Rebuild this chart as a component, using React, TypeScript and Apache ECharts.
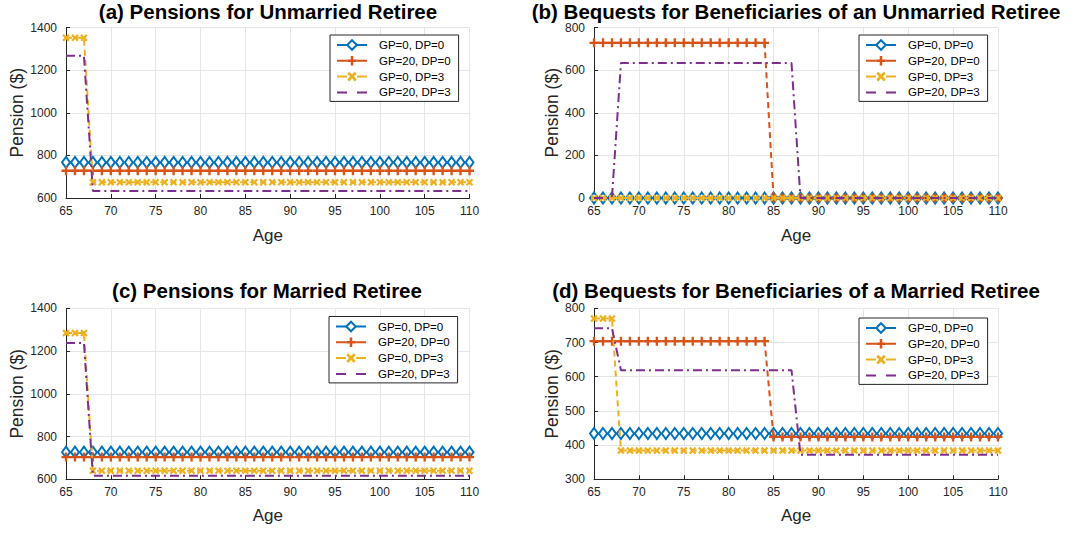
import React, { useEffect, useRef } from 'react';
import * as echarts from 'echarts';

// ---------------- data ----------------
const ages = [
  65, 66, 67, 68, 69, 70, 71, 72, 73, 74,
  75, 76, 77, 78, 79, 80, 81, 82, 83, 84,
  85, 86, 87, 88, 89, 90, 91, 92, 93, 94,
  95, 96, 97, 98, 99, 100, 101, 102, 103, 104,
  105, 106, 107, 108, 109, 110,
];

const seriesNames = ['GP=0, DP=0', 'GP=20, DP=0', 'GP=0, DP=3', 'GP=20, DP=3'];

const panelTitles = [
  '(a) Pensions for Unmarried Retiree',
  '(b) Bequests for Beneficiaries of an Unmarried Retiree',
  '(c) Pensions for Married Retiree',
  '(d) Bequests for Beneficiaries of a Married Retiree',
];

const xAxisName = 'Age';
const yAxisName = 'Pension ($)';

// (a) pensions, unmarried
const aGP0DP0 = [
  767, 767, 767, 767, 767, 767, 767, 767, 767, 767,
  767, 767, 767, 767, 767, 767, 767, 767, 767, 767,
  767, 767, 767, 767, 767, 767, 767, 767, 767, 767,
  767, 767, 767, 767, 767, 767, 767, 767, 767, 767,
  767, 767, 767, 767, 767, 767,
];
const aGP20DP0 = [
  728, 728, 728, 728, 728, 728, 728, 728, 728, 728,
  728, 728, 728, 728, 728, 728, 728, 728, 728, 728,
  728, 728, 728, 728, 728, 728, 728, 728, 728, 728,
  728, 728, 728, 728, 728, 728, 728, 728, 728, 728,
  728, 728, 728, 728, 728, 728,
];
const aGP0DP3 = [
  1352, 1352, 1352, 674, 674, 674, 674, 674, 674, 674,
  674, 674, 674, 674, 674, 674, 674, 674, 674, 674,
  674, 674, 674, 674, 674, 674, 674, 674, 674, 674,
  674, 674, 674, 674, 674, 674, 674, 674, 674, 674,
  674, 674, 674, 674, 674, 674,
];
const aGP20DP3 = [
  1268, 1268, 1268, 633, 633, 633, 633, 633, 633, 633,
  633, 633, 633, 633, 633, 633, 633, 633, 633, 633,
  633, 633, 633, 633, 633, 633, 633, 633, 633, 633,
  633, 633, 633, 633, 633, 633, 633, 633, 633, 633,
  633, 633, 633, 633, 633, 633,
];

// (b) bequests, unmarried
const bGP0DP0 = [
  0, 0, 0, 0, 0, 0, 0, 0, 0, 0,
  0, 0, 0, 0, 0, 0, 0, 0, 0, 0,
  0, 0, 0, 0, 0, 0, 0, 0, 0, 0,
  0, 0, 0, 0, 0, 0, 0, 0, 0, 0,
  0, 0, 0, 0, 0, 0,
];
const bGP20DP0 = [
  728, 728, 728, 728, 728, 728, 728, 728, 728, 728,
  728, 728, 728, 728, 728, 728, 728, 728, 728, 728,
  0, 0, 0, 0, 0, 0, 0, 0, 0, 0,
  0, 0, 0, 0, 0, 0, 0, 0, 0, 0,
  0, 0, 0, 0, 0, 0,
];
const bGP0DP3 = [
  0, 0, 0, 0, 0, 0, 0, 0, 0, 0,
  0, 0, 0, 0, 0, 0, 0, 0, 0, 0,
  0, 0, 0, 0, 0, 0, 0, 0, 0, 0,
  0, 0, 0, 0, 0, 0, 0, 0, 0, 0,
  0, 0, 0, 0, 0, 0,
];
const bGP20DP3 = [
  0, 0, 0, 633, 633, 633, 633, 633, 633, 633,
  633, 633, 633, 633, 633, 633, 633, 633, 633, 633,
  633, 633, 633, 0, 0, 0, 0, 0, 0, 0,
  0, 0, 0, 0, 0, 0, 0, 0, 0, 0,
  0, 0, 0, 0, 0, 0,
];

// (c) pensions, married
const cGP0DP0 = [
  727, 727, 727, 727, 727, 727, 727, 727, 727, 727,
  727, 727, 727, 727, 727, 727, 727, 727, 727, 727,
  727, 727, 727, 727, 727, 727, 727, 727, 727, 727,
  727, 727, 727, 727, 727, 727, 727, 727, 727, 727,
  727, 727, 727, 727, 727, 727,
];
const cGP20DP0 = [
  704, 704, 704, 704, 704, 704, 704, 704, 704, 704,
  704, 704, 704, 704, 704, 704, 704, 704, 704, 704,
  704, 704, 704, 704, 704, 704, 704, 704, 704, 704,
  704, 704, 704, 704, 704, 704, 704, 704, 704, 704,
  704, 704, 704, 704, 704, 704,
];
const cGP0DP3 = [
  1284, 1284, 1284, 640, 640, 640, 640, 640, 640, 640,
  640, 640, 640, 640, 640, 640, 640, 640, 640, 640,
  640, 640, 640, 640, 640, 640, 640, 640, 640, 640,
  640, 640, 640, 640, 640, 640, 640, 640, 640, 640,
  640, 640, 640, 640, 640, 640,
];
const cGP20DP3 = [
  1238, 1238, 1238, 617, 617, 617, 617, 617, 617, 617,
  617, 617, 617, 617, 617, 617, 617, 617, 617, 617,
  617, 617, 617, 617, 617, 617, 617, 617, 617, 617,
  617, 617, 617, 617, 617, 617, 617, 617, 617, 617,
  617, 617, 617, 617, 617, 617,
];

// (d) bequests, married
const dGP0DP0 = [
  434, 434, 434, 434, 434, 434, 434, 434, 434, 434,
  434, 434, 434, 434, 434, 434, 434, 434, 434, 434,
  434, 434, 434, 434, 434, 434, 434, 434, 434, 434,
  434, 434, 434, 434, 434, 434, 434, 434, 434, 434,
  434, 434, 434, 434, 434, 434,
];
const dGP20DP0 = [
  704, 704, 704, 704, 704, 704, 704, 704, 704, 704,
  704, 704, 704, 704, 704, 704, 704, 704, 704, 704,
  424, 424, 424, 424, 424, 424, 424, 424, 424, 424,
  424, 424, 424, 424, 424, 424, 424, 424, 424, 424,
  424, 424, 424, 424, 424, 424,
];
const dGP0DP3 = [
  770, 770, 770, 384, 384, 384, 384, 384, 384, 384,
  384, 384, 384, 384, 384, 384, 384, 384, 384, 384,
  384, 384, 384, 384, 384, 384, 384, 384, 384, 384,
  384, 384, 384, 384, 384, 384, 384, 384, 384, 384,
  384, 384, 384, 384, 384, 384,
];
const dGP20DP3 = [
  742, 742, 742, 619, 619, 619, 619, 619, 619, 619,
  619, 619, 619, 619, 619, 619, 619, 619, 619, 619,
  619, 619, 619, 372, 372, 372, 372, 372, 372, 372,
  372, 372, 372, 372, 372, 372, 372, 372, 372, 372,
  372, 372, 372, 372, 372, 372,
];

const xTicks = { min: 65, max: 110, interval: 5 };
const yRanges = [
  { min: 600, max: 1400, interval: 200 },
  { min: 0, max: 800, interval: 200 },
  { min: 600, max: 1400, interval: 200 },
  { min: 300, max: 800, interval: 100 },
];

const panelData = [
  [aGP0DP0, aGP20DP0, aGP0DP3, aGP20DP3],
  [bGP0DP0, bGP20DP0, bGP0DP3, bGP20DP3],
  [cGP0DP0, cGP20DP0, cGP0DP3, cGP20DP3],
  [dGP0DP0, dGP20DP0, dGP0DP3, dGP20DP3],
];

// ---------------- layout / style ----------------
const FONT = 'Liberation Sans, Arial, Helvetica, sans-serif';
const AXIS_COLOR = '#262626';
const GRID_COLOR = '#e6e6e6';
const COLORS = ['#0072BD', '#D95319', '#EDB120', '#7E2F8E'];

const grids = [
  { left: 66, top: 27.5, width: 403.5, height: 170.5 },
  { left: 594, top: 27.5, width: 404, height: 170.5 },
  { left: 66, top: 308.3, width: 403.5, height: 171 },
  { left: 594, top: 308.3, width: 404, height: 171 },
];
const yNameGaps = [39, 31, 39, 31];
const xNameGaps = [29, 29, 28, 28];
const titlePos = [
  { x: 268, y: 11 },
  { x: 796, y: 11 },
  { x: 267, y: 290.5 },
  { x: 796, y: 290.5 },
];
const legendPos = [
  { left: 330, top: 35 },
  { left: 859, top: 35 },
  { left: 329, top: 316.5 },
  { left: 859, top: 318 },
];

const PLUS = 'path://M3.7,0H6.3V3.7H10V6.3H6.3V10H3.7V6.3H0V3.7H3.7Z';
const CROSS = 'path://M0,2.1L2.1,0L5,2.9L7.9,0L10,2.1L7.1,5L10,7.9L7.9,10L5,7.1L2.1,10L0,7.9L2.9,5Z';

const seriesStyles = [
  { symbol: 'emptyDiamond', symbolSize: [8, 11], lineType: [6, 4], borderWidth: 1.8 },
  { symbol: PLUS, symbolSize: 9, lineType: [6, 4], borderWidth: 0 },
  { symbol: CROSS, symbolSize: 7.5, lineType: [6, 4], borderWidth: 0 },
  { symbol: 'none', symbolSize: 0, lineType: [9, 4, 2, 4], borderWidth: 0 },
];

function buildOption() {
  const series: any[] = [];
  panelData.forEach((panel, p) => {
    panel.forEach((vals, s) => {
      const st = seriesStyles[s];
      series.push({
        type: 'line',
        name: seriesNames[s],
        xAxisIndex: p,
        yAxisIndex: p,
        data: ages.map((a, i) => [a, vals[i]]),
        symbol: st.symbol,
        symbolSize: st.symbolSize,
        showSymbol: st.symbol !== 'none',
        showAllSymbol: true,
        clip: false,
        color: COLORS[s],
        lineStyle: { color: COLORS[s], width: 2, type: st.lineType },
        itemStyle: {
          color: COLORS[s],
          borderColor: COLORS[s],
          borderWidth: st.borderWidth,
        },
        emphasis: { disabled: true },
        z: 2 + s,
      });
    });
  });

  const legendData = seriesNames.map((n, i) =>
    i === 3 ? { name: n, itemStyle: { opacity: 0 } } : { name: n }
  );

  return {
    animation: false,
    backgroundColor: '#ffffff',
    textStyle: { fontFamily: FONT },
    grid: grids.map((g) => ({ ...g, containLabel: false })),
    xAxis: grids.map((_, i) => ({
      type: 'value',
      gridIndex: i,
      min: xTicks.min,
      max: xTicks.max,
      interval: xTicks.interval,
      name: xAxisName,
      nameLocation: 'middle',
      nameGap: xNameGaps[i],
      nameTextStyle: { fontSize: 17, color: AXIS_COLOR, fontFamily: FONT },
      axisLine: { show: true, onZero: false, lineStyle: { color: AXIS_COLOR, width: 1 } },
      axisTick: { show: true, inside: true, length: 4, lineStyle: { color: AXIS_COLOR } },
      axisLabel: {
        fontSize: 12,
        color: AXIS_COLOR,
        margin: 7,
        fontFamily: FONT,
        formatter: (v: number) => String(v),
      },
      splitLine: { show: true, lineStyle: { color: GRID_COLOR, width: 1 } },
    })),
    yAxis: grids.map((_, i) => ({
      type: 'value',
      gridIndex: i,
      min: yRanges[i].min,
      max: yRanges[i].max,
      interval: yRanges[i].interval,
      name: yAxisName,
      nameLocation: 'middle',
      nameGap: yNameGaps[i],
      nameTextStyle: { fontSize: 17.5, color: AXIS_COLOR, fontFamily: FONT },
      axisLine: { show: true, onZero: false, lineStyle: { color: AXIS_COLOR, width: 1 } },
      axisTick: { show: true, inside: true, length: 4, lineStyle: { color: AXIS_COLOR } },
      axisLabel: {
        fontSize: 12,
        color: AXIS_COLOR,
        margin: 9,
        fontFamily: FONT,
        formatter: (v: number) => String(v),
      },
      splitLine: { show: true, lineStyle: { color: GRID_COLOR, width: 1 } },
    })),
    legend: legendPos.map((lp) => ({
      ...lp,
      orient: 'vertical',
      data: legendData,
      selectedMode: false,
      itemWidth: 30,
      itemHeight: 12,
      itemGap: 3.8,
      padding: [4, 8, 3, 6],
      borderColor: AXIS_COLOR,
      borderWidth: 1,
      backgroundColor: '#ffffff',
      lineStyle: { type: [10, 10] },
      textStyle: { fontSize: 11.5, color: '#000', fontFamily: FONT, padding: [0, 0, 0, 7] },
    })),
    graphic: panelTitles.map((t, i) => ({
      type: 'text',
      x: titlePos[i].x,
      y: titlePos[i].y,
      style: {
        text: t,
        fontSize: 20.5,
        fontWeight: 'bold',
        fontFamily: FONT,
        fill: '#000',
        align: 'center',
        verticalAlign: 'middle',
      },
      z: 100,
    })),
    series,
  };
}

export default function App() {
  const ref = useRef<HTMLDivElement>(null);
  useEffect(() => {
    if (!ref.current) return;
    const chart = echarts.init(ref.current, undefined, { renderer: 'svg' });
    chart.setOption(buildOption() as any);
    return () => chart.dispose();
  }, []);
  return (
    <div
      ref={ref}
      style={{ position: 'absolute', left: 0, top: 0, width: 1080, height: 533, background: '#fff' }}
    />
  );
}
